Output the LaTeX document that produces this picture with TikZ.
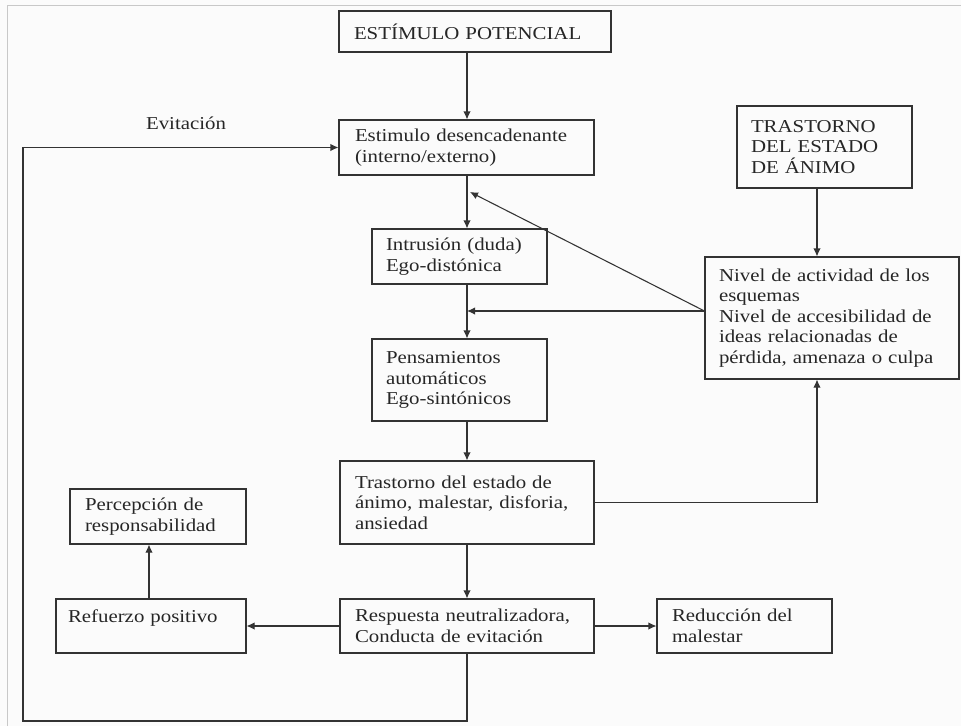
\documentclass[tikz,border=0pt]{standalone}
\usepackage{fontspec}
\setmainfont{Liberation Serif}[FakeStretch=1.15]
\usetikzlibrary{arrows.meta}
\definecolor{linegray}{HTML}{333333}
\definecolor{framegray}{HTML}{C8C8C8}
\definecolor{paper}{HTML}{FBFBFB}
\tikzset{
    caja/.style={draw=linegray, line width=0.8pt, align=left, inner ysep=0pt, text=black!85},
    flecha/.style={draw=linegray, line width=0.8pt, -{Latex[length=6pt,width=5.5pt]}}
}

\begin{document}
\begin{tikzpicture}[x=0.75pt, y=-0.75pt, font=\fontsize{13.6}{15.4}\selectfont]

    \fill[paper] (0,0) rectangle (961,726);
    \useasboundingbox (0,0) rectangle (961,726);
    \draw[framegray, line width=0.75pt] (7,726) -- (7,5) -- (961,5);

    \node[caja, text width=181.5pt, inner xsep=11.25pt, minimum height=30.75pt] (EstPot) at (475,31.5) {ESTÍMULO POTENCIAL};
    \node[caja, text width=167.25pt, inner xsep=12pt, minimum height=41.25pt] (EstDes) at (466.5,147.5) {Estimulo desencadenante\\(interno/externo)};
    \node[caja, text width=110.25pt, inner xsep=10.5pt, minimum height=41.25pt] (Intr) at (459.5,256.5) {Intrusión (duda)\\Ego-distónica};
    \node[caja, text width=110.25pt, inner xsep=10.5pt, minimum height=61.5pt] (PensAut) at (459.5,380) {Pensamientos\\automáticos\\Ego-sintónicos};
    \node[caja, text width=168pt, inner xsep=11.25pt, minimum height=62.25pt] (TrEst) at (467,502.5) {Trastorno del estado de\\ánimo, malestar, disforia,\\ansiedad};
    \node[caja, text width=168pt, inner xsep=11.25pt, minimum height=40.5pt] (RespNeu) at (467,626) {Respuesta neutralizadora,\\Conducta de evitación};
    \node[caja, text width=108.75pt, inner xsep=11.25pt, minimum height=40.5pt] (RedMal) at (744.5,626) {Reducción del\\malestar};
    \node[caja, text width=124.5pt, inner xsep=9pt, minimum height=40.5pt, text depth=15pt] (RefPos) at (151,626) {Refuerzo positivo};
    \node[caja, text width=109.5pt, inner xsep=11.25pt, minimum height=41.25pt] (PercResp) at (158,516.5) {Percepción de\\responsabilidad};
    \node[caja, text width=110.25pt, inner xsep=10.5pt, minimum height=61.5pt] (TrAnimo) at (824.5,147) {TRASTORNO\\DEL ESTADO\\DE ÁNIMO};
    \node[caja, text width=169.5pt, inner xsep=10.5pt, minimum height=91.5pt] (NivEsq) at (832,318) {Nivel de actividad de los\\esquemas\\Nivel de accesibilidad de\\ideas relacionadas de\\pérdida, amenaza o culpa};
    \node[text=black!85] (Evit) at (186,123) {Evitación};

    \coordinate (eje) at (467,0);
    \coordinate (ejeNiv) at (817,0);
    \coordinate (puntaDiag) at (470,192);
    \coordinate (esqLazo) at (23,721);

    \draw[flecha] (eje |- EstPot.south) -- (eje |- EstDes.north);
    \draw[flecha] (eje |- EstDes.south) -- (eje |- Intr.north);
    \draw[flecha] (eje |- Intr.south) -- (eje |- PensAut.north);
    \draw[flecha] (eje |- PensAut.south) -- (TrEst.north);
    \draw[flecha] (TrEst.south) -- (RespNeu.north);
    \draw[flecha] (RespNeu.east) -- (RedMal.west);
    \draw[flecha] (RespNeu.west) -- (RefPos.east);
    \draw[flecha] ([xshift=-1.5pt]RefPos.north) -- ([xshift=-1.5pt]RefPos.north |- PercResp.south);
    \draw[flecha] (ejeNiv |- TrAnimo.south) -- (ejeNiv |- NivEsq.north);
    \draw[flecha] (TrEst.east) -| (ejeNiv |- NivEsq.south);
    \draw[flecha] ([yshift=5.25pt]NivEsq.west) -- ([yshift=5.25pt]eje |- NivEsq.west);
    \draw[flecha] ([yshift=5.25pt]NivEsq.west) -- (puntaDiag);
    \draw[flecha] (RespNeu.south) |- (esqLazo) |- (EstDes.west);

\end{tikzpicture}
\end{document}
